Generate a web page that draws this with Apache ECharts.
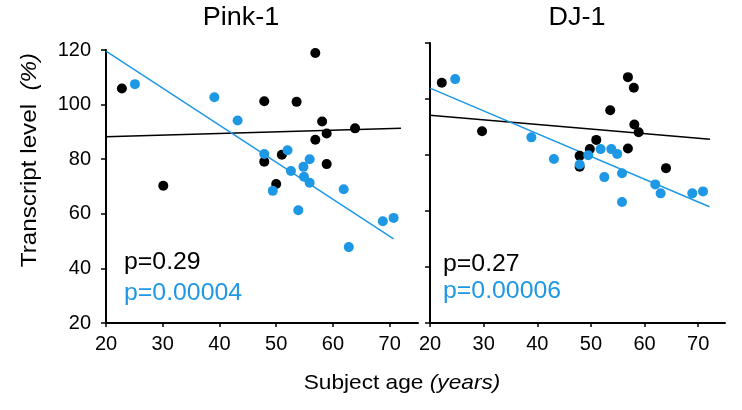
<!DOCTYPE html>
<html>
<head>
<meta charset="utf-8">
<script src="https://cdn.jsdelivr.net/npm/echarts@6/dist/echarts.min.js"></script>
<style>
html,body{margin:0;padding:0;background:#fff;}
#main{width:742px;height:410px;}
</style>
</head>
<body>
<div id="main"></div>
<script>
// ---- data (age in years, transcript level %) ----
const pinkBlack = [[22.8,105.9],[30.1,70.3],[47.9,101.2],[47.9,79.1],[53.6,101.0],[56.9,118.9],[58.1,93.8],[56.9,87.1],[58.9,89.4],[58.9,78.2],[51.0,81.6],[50.0,70.9],[63.9,91.3]];
const pinkBlue = [[25.1,107.5],[39.1,102.7],[43.2,94.2],[47.9,81.9],[52.0,83.3],[55.9,80.0],[54.8,77.2],[52.6,75.7],[54.9,73.6],[55.9,71.4],[49.4,68.4],[53.9,61.3],[61.9,69.0],[62.8,47.8],[68.8,57.3],[70.7,58.5]];
const djBlack = [[22.2,105.8],[29.7,88.5],[47.9,79.7],[47.9,75.8],[49.8,82.1],[51.0,85.4],[53.6,96.0],[56.9,107.8],[58.0,104.0],[58.1,90.9],[58.9,88.1],[56.9,82.3],[64.0,75.3]];
const djBlue = [[24.7,107.1],[38.9,86.3],[43.1,78.6],[47.9,76.6],[49.5,79.9],[51.8,82.1],[53.8,82.1],[54.9,80.4],[52.5,72.1],[55.8,73.5],[55.8,63.2],[62.0,69.5],[63.0,66.3],[68.9,66.3],[70.9,67.0]];
const pinkBlackFit = [[20,88.2],[72,91.3]];
const pinkBlueFit = [[20,119.6],[70.7,50.8]];
const djBlackFit = [[20,94.2],[72.2,85.6]];
const djBlueFit = [[20,103.9],[72.1,61.5]];
const xTicks = [20,30,40,50,60,70];
const yTicks = [20,40,60,80,100,120];
const panelTitles = ['Pink-1','DJ-1'];
const pBlack = ['p=0.29','p=0.27'];
const pBlue = ['p=0.00004','p=0.00006'];

const BLUE = '#1e98e4';
const BLACK = '#000000';
const FONT = "'Liberation Sans', Arial, Helvetica, sans-serif";

const chart = echarts.init(document.getElementById('main'), null, {renderer:'canvas'});

function xAxisCfg(idx){
  return {
    type:'value', gridIndex:idx, min:20, max:75, interval:10,
    axisLine:{show:true, onZero:false, lineStyle:{color:BLACK, width:2}},
    axisTick:{show:true, customValues:xTicks, length:4, inside:false, lineStyle:{color:BLACK,width:1.5}},
    axisLabel:{show:true, customValues:xTicks, margin:11, color:BLACK, fontSize:20, fontFamily:FONT},
    splitLine:{show:false}
  };
}
function yAxisCfg(idx, showLabels){
  return {
    type:'value', gridIndex:idx, min:20, max:120, interval:20,
    axisLine:{show:true, onZero:false, lineStyle:{color:BLACK, width:2}},
    axisTick:{show:true, customValues:yTicks, length:5, inside:false, lineStyle:{color:BLACK,width:1.5}},
    axisLabel:{show:showLabels, customValues:yTicks, margin:15, color:BLACK, fontSize:20, fontFamily:FONT},
    splitLine:{show:false}
  };
}
function scat(data, color, idx){
  return {type:'scatter', xAxisIndex:idx, yAxisIndex:idx, data:data, symbolSize:10,
    itemStyle:{color:color, opacity:1}, z:3, silent:true};
}
function fit(data, color, idx){
  return {type:'line', xAxisIndex:idx, yAxisIndex:idx, data:data, symbol:'none',
    lineStyle:{color:color, width:1.5}, z:2, silent:true, animation:false};
}

const grids = [
  {left:106, top:50, width:312, height:273},
  {left:430, top:43, width:295, height:280}
];
const panelCenters = [241, 577];

const graphics = [];
panelTitles.forEach((t,i)=>{
  graphics.push({type:'text', x:panelCenters[i], y:18, scaleX:1.08,
    style:{text:t, font:'25px '+FONT, fill:BLACK, textAlign:'center', textVerticalAlign:'middle'}});
});
const pX = [124, 443];
const pYBlack = [263, 265];
const pYBlue = [294, 292];
for(let i=0;i<2;i++){
  graphics.push({type:'text', x:pX[i], y:pYBlack[i], scaleX:1.08,
    style:{text:pBlack[i], font:'23px '+FONT, fill:BLACK, textAlign:'left', textVerticalAlign:'middle'}});
  graphics.push({type:'text', x:pX[i], y:pYBlue[i], scaleX:1.08,
    style:{text:pBlue[i], font:'23px '+FONT, fill:BLUE, textAlign:'left', textVerticalAlign:'middle'}});
}
// axis names
graphics.push({type:'text', x:402, y:383, scaleX:1.08,
  style:{text:'{n|Subject age }{i|(years)}', rich:{n:{font:'21px '+FONT, fill:BLACK}, i:{font:'italic 21px '+FONT, fill:BLACK}},
    textAlign:'center', textVerticalAlign:'middle'}});
graphics.push({type:'text', x:30, y:160, rotation:Math.PI/2, scaleX:1.1,
  style:{text:'{n|Transcript level  }{i|(%)}', rich:{n:{font:'22px '+FONT, fill:BLACK}, i:{font:'italic 22px '+FONT, fill:BLACK}},
    textAlign:'center', textVerticalAlign:'middle'}});

chart.setOption({
  animation:false,
  backgroundColor:'#ffffff',
  grid:grids,
  xAxis:[xAxisCfg(0), xAxisCfg(1)],
  yAxis:[yAxisCfg(0,true), yAxisCfg(1,false)],
  series:[
    fit(pinkBlackFit, BLACK, 0), fit(pinkBlueFit, BLUE, 0),
    scat(pinkBlack, BLACK, 0), scat(pinkBlue, BLUE, 0),
    fit(djBlackFit, BLACK, 1), fit(djBlueFit, BLUE, 1),
    scat(djBlack, BLACK, 1), scat(djBlue, BLUE, 1)
  ],
  graphic:graphics
});
</script>
</body>
</html>
